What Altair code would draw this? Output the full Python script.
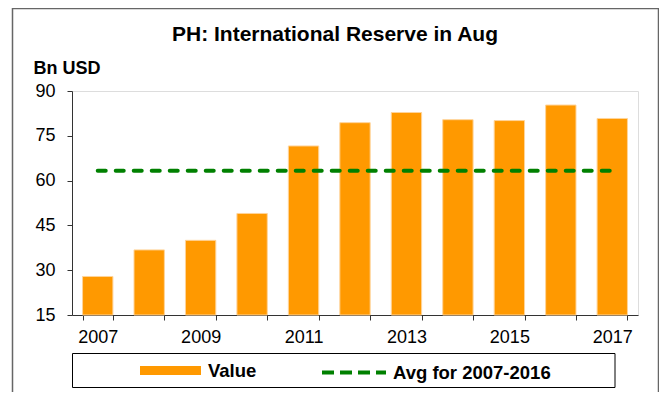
import altair as alt
import pandas as pd

years = ["2007", "2008", "2009", "2010", "2011", "2012", "2013", "2014", "2015", "2016", "2017"]
values = [27.9, 36.8, 40.0, 49.0, 71.6, 79.4, 82.8, 80.4, 80.1, 85.3, 80.8]
avg_value = 63.3
bar_label = "Value"
line_label = "Avg for 2007-2016"

FONT = "Liberation Sans"
ORANGE = "#FF9900"
GREEN = "#008000"

bars_df = pd.DataFrame({"year": years, "value": values, "series": [bar_label] * len(years)})
line_df = pd.DataFrame({"year": years, "avg": [avg_value] * len(years), "series2": [line_label] * len(years)})

x_enc = alt.X(
    "year:N",
    sort=years,
    scale=alt.Scale(domain=years, paddingInner=0.41, paddingOuter=0.205),
    axis=alt.Axis(
        title=None,
        labelAngle=0,
        labelExpr="parseInt(datum.value) % 2 == 1 ? datum.label : ''",
        tickBand="extent",
        tickSize=5,
        labelPadding=8,
        labelFontSize=18,
        labelFont=FONT,
        labelColor="#000000",
        domainColor="#333333",
        tickColor="#333333",
        grid=False,
    ),
)

y_scale = alt.Scale(domain=[15, 90], nice=False, zero=False, clamp=True)

bars = alt.Chart(bars_df).mark_bar(color=ORANGE, stroke="#FFD49A", strokeWidth=1).encode(
    x=x_enc,
    y=alt.Y(
        "value:Q",
        scale=y_scale,
        axis=alt.Axis(
            values=[15, 30, 45, 60, 75, 90],
            title="Bn USD",
            titleAngle=0,
            titleX=-39,
            titleY=-18,
            titleAlign="left",
            titleBaseline="alphabetic",
            titleFontSize=18,
            titleFontWeight="bold",
            titleFont=FONT,
            titleColor="#000000",
            labelFontSize=18,
            labelFont=FONT,
            labelColor="#000000",
            labelPadding=12,
            tickSize=5,
            domainColor="#333333",
            tickColor="#333333",
            grid=False,
        ),
    ),
    y2=alt.Y2(datum=15),
    color=alt.Color(
        "series:N",
        scale=alt.Scale(domain=[bar_label], range=[ORANGE]),
        legend=alt.Legend(
            title=None,
            orient="none",
            legendX=68,
            legendY=249,
            padding=0,
            symbolType="M-1,-0.15L1,-0.15L1,0.15L-1,0.15Z",
            symbolSize=3721,
            symbolStrokeWidth=0,
            symbolOpacity=1,
            labelOffset=7,
            labelFont=FONT,
            labelFontSize=18.5,
            labelFontWeight="bold",
            labelColor="#000000",
        ),
    ),
)

line = alt.Chart(line_df).mark_line(
    strokeWidth=4, strokeDash=[8, 10], strokeCap="round"
).encode(
    x=alt.X("year:N", sort=years),
    y=alt.Y("avg:Q", scale=y_scale),
    color=alt.Color(
        "series2:N",
        scale=alt.Scale(domain=[line_label], range=[GREEN]),
        legend=alt.Legend(
            title=None,
            orient="none",
            legendX=248,
            legendY=247.5,
            padding=0,
            symbolType="stroke",
            symbolSize=4096,
            symbolStrokeWidth=4,
            symbolDash=[12, 6],
            labelOffset=5,
            labelFont=FONT,
            labelFontSize=18.5,
            labelFontWeight="bold",
            labelColor="#000000",
        ),
    ),
)

frame_df = pd.DataFrame({"k": [0]})
outer_frame = alt.Chart(frame_df).mark_rect(fill=None, stroke="#666666", strokeWidth=1.5).encode(
    x=alt.value(-59.5), x2=alt.value(586.5), y=alt.value(-82.5), y2=alt.value(330)
)
legend_frame = alt.Chart(frame_df).mark_rect(fill="#FFFFFF", stroke="#000000", strokeWidth=1).encode(
    x=alt.value(0.5), x2=alt.value(543), y=alt.value(262.5), y2=alt.value(296.5)
)

chart = (
    alt.layer(outer_frame, legend_frame, bars, line)
    .resolve_scale(color="independent")
    .properties(
        width=566,
        height=224,
        padding={"left": 64, "top": 83, "right": 21, "bottom": 77},
        autosize=alt.AutoSizeParams(type="none"),
        title=alt.Title(
            "PH: International Reserve in Aug",
            font=FONT,
            fontSize=21,
            fontWeight="bold",
            color="#000000",
            anchor="middle",
            frame="group",
            baseline="alphabetic",
            offset=-54,
            dx=-20,
        ),
    )
    .configure_view(stroke=None)
    .configure(background="#FFFFFF")
)

chart.save("out.html", embed_options={"renderer": "svg", "actions": False})
